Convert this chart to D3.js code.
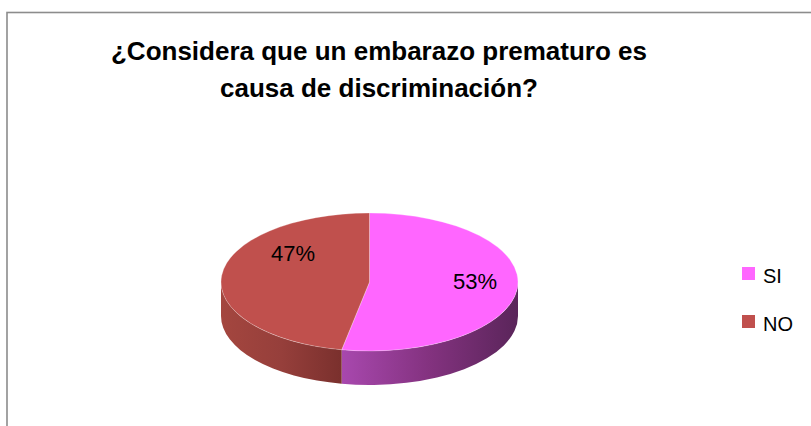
<!DOCTYPE html>
<html>
<head>
<meta charset="utf-8">
<script src="https://cdn.jsdelivr.net/npm/d3@7"></script>
<style>
  html, body { margin: 0; padding: 0; background: #fff; }
  svg { display: block; }
</style>
</head>
<body>
<svg id="chart" width="811" height="426"></svg>
<script>
// Survey answers
const categories = ["SI", "NO"];
const values = [53, 47];
const labels = ["53%", "47%"];
const titleLines = ["¿Considera que un embarazo prematuro es", "causa de discriminación?"];

const topColors = { SI: "#ff66ff", NO: "#c0504d" };
const sideStops = {
  SI: ["#a848ae", "#83327f", "#5a255a"],
  NO: ["#a4463f", "#963f3b", "#7a302d"]
};
// fine placement of the percentage text on the tilted top face
const labelNudge = { SI: [-1, -6], NO: [30, -24] };

const svg = d3.select("#chart");
const W = 811, H = 426;

// Frame
svg.append("rect")
  .attr("x", 7).attr("y", 12.5)
  .attr("width", W + 20).attr("height", H + 20)
  .attr("fill", "#fff")
  .attr("stroke", "#8c8c8c")
  .attr("stroke-width", 1.6);

// Title
const title = svg.append("text")
  .attr("text-anchor", "middle")
  .attr("font-family", "Liberation Sans, Arial, sans-serif")
  .attr("font-weight", "bold")
  .attr("font-size", 26)
  .attr("fill", "#000");
titleLines.forEach((t, i) => {
  title.append("tspan").attr("x", 379).attr("y", 60 + i * 36.5).text(t);
});

// 3D pie geometry
const cx = 369.5, cy = 282, rx = 148.5, ry = 69, depth = 34;
const k = ry / rx;            // vertical squash of the ellipse
const dScaled = depth / k;    // depth in unsquashed space

const pie = d3.pie().sort(null).value(d => d.value);
const data = categories.map((c, i) => ({ cat: c, value: values[i], label: labels[i] }));
const arcs = pie(data);

const defs = svg.append("defs");
categories.forEach(c => {
  const g = defs.append("linearGradient")
    .attr("id", "side-" + c)
    .attr("x1", 0).attr("x2", 1).attr("y1", 0).attr("y2", 0);
  sideStops[c].forEach((col, i, arr) => {
    g.append("stop").attr("offset", i / (arr.length - 1)).attr("stop-color", col);
  });
});

const pieG = svg.append("g")
  .attr("transform", `translate(${cx},${cy}) scale(1,${k})`);

// Side walls: only the front half (angles between PI/2 and 3PI/2) is visible
const front0 = Math.PI / 2, front1 = 3 * Math.PI / 2;
function sidePath(a0, a1) {
  const p = d3.path();
  const r = rx;
  p.moveTo(r * Math.sin(a0), -r * Math.cos(a0));
  p.arc(0, 0, r, a0 - Math.PI / 2, a1 - Math.PI / 2, false);
  p.lineTo(r * Math.sin(a1), -r * Math.cos(a1) + dScaled);
  p.arc(0, dScaled, r, a1 - Math.PI / 2, a0 - Math.PI / 2, true);
  p.closePath();
  return p.toString();
}

arcs.forEach(a => {
  const s = Math.max(a.startAngle, front0);
  const e = Math.min(a.endAngle, front1);
  if (e > s) {
    pieG.append("path")
      .attr("d", sidePath(s, e))
      .attr("fill", `url(#side-${a.data.cat})`);
  }
});

// Top faces
const arcGen = d3.arc().innerRadius(0).outerRadius(rx);
pieG.selectAll("path.top")
  .data(arcs)
  .join("path")
  .attr("class", "top")
  .attr("d", arcGen)
  .attr("fill", d => topColors[d.data.cat])
  .attr("stroke", "rgba(255,255,255,0.35)")
  .attr("stroke-width", 0.8)
  .attr("vector-effect", "non-scaling-stroke");

// Percentage labels
const labelArc = d3.arc().innerRadius(rx * 0.72).outerRadius(rx * 0.72);
svg.selectAll("text.pct")
  .data(arcs)
  .join("text")
  .attr("class", "pct")
  .attr("text-anchor", "middle")
  .attr("font-family", "Liberation Sans, Arial, sans-serif")
  .attr("font-size", 22)
  .attr("fill", "#000")
  .attr("x", d => cx + labelArc.centroid(d)[0] + labelNudge[d.data.cat][0])
  .attr("y", d => cy + labelArc.centroid(d)[1] * k + 8 + labelNudge[d.data.cat][1])
  .text(d => d.data.label);

// Legend
const legend = svg.append("g").attr("transform", "translate(742,267)");
categories.forEach((c, i) => {
  const row = legend.append("g").attr("transform", `translate(0,${i * 48})`);
  row.append("rect").attr("width", 13).attr("height", 13).attr("fill", topColors[c]);
  row.append("text")
    .attr("x", 21).attr("y", 16)
    .attr("font-family", "Liberation Sans, Arial, sans-serif")
    .attr("font-size", 20)
    .attr("fill", "#000")
    .text(c);
});
</script>
</body>
</html>
